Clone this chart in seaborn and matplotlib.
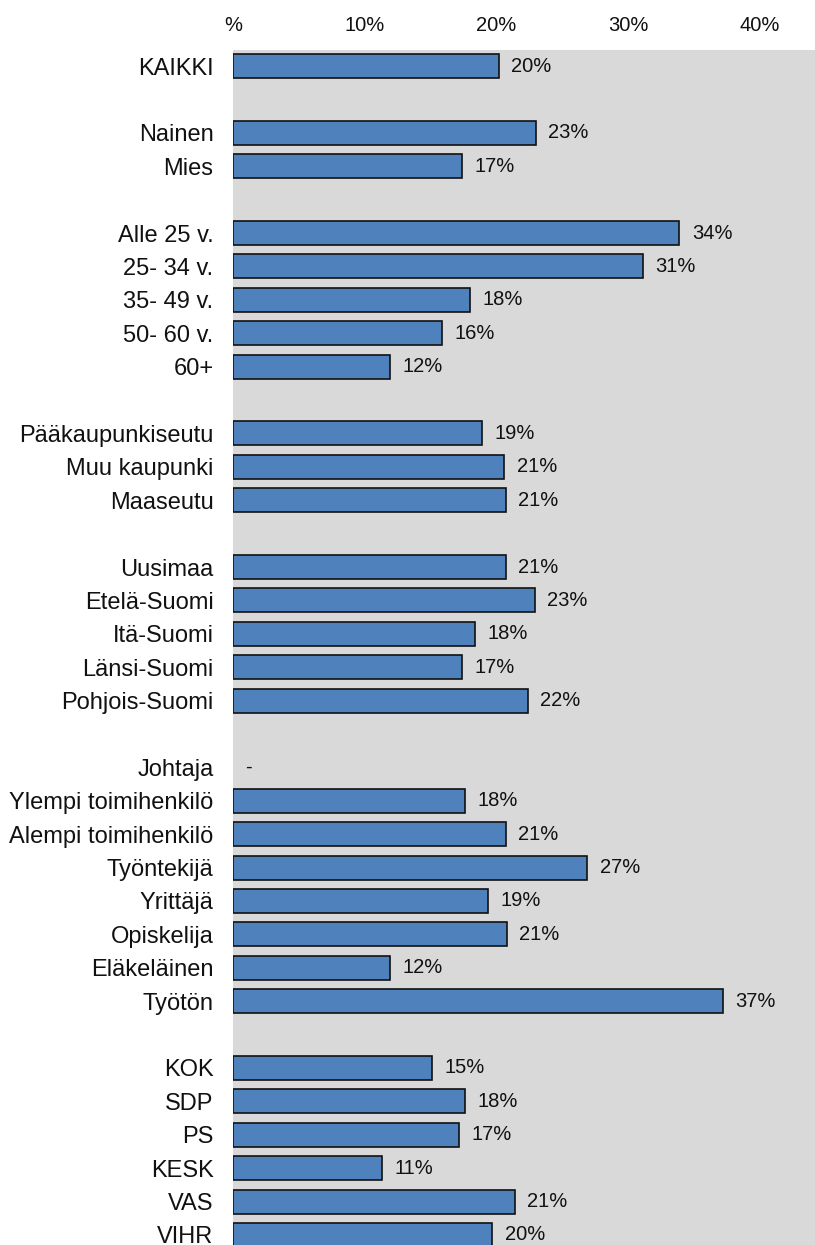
import numpy as np
import pandas as pd
import matplotlib
matplotlib.use("Agg")
import matplotlib.pyplot as plt
import seaborn as sns

# Row layout: blank strings are spacer rows between groups
categories = [
    "KAIKKI", " ",
    "Nainen", "Mies", "  ",
    "Alle 25 v.", "25- 34 v.", "35- 49 v.", "50- 60 v.", "60+", "   ",
    "Pääkaupunkiseutu", "Muu kaupunki", "Maaseutu", "    ",
    "Uusimaa", "Etelä-Suomi", "Itä-Suomi", "Länsi-Suomi", "Pohjois-Suomi", "     ",
    "Johtaja", "Ylempi toimihenkilö", "Alempi toimihenkilö", "Työntekijä",
    "Yrittäjä", "Opiskelija", "Eläkeläinen", "Työtön", "      ",
    "KOK", "SDP", "PS", "KESK", "VAS", "VIHR",
]

# Share (%) per group; None = no data shown ("-")
values = [
    20.2, None,
    23.0, 17.4, None,
    33.9, 31.1, 18.0, 15.9, 11.9, None,
    18.9, 20.6, 20.7, None,
    20.7, 22.9, 18.4, 17.4, 22.4, None,
    None, 17.6, 20.7, 26.9, 19.4, 20.8, 11.9, 37.2, None,
    15.1, 17.6, 17.2, 11.3, 21.4, 19.7,
]
missing_rows = ["Johtaja"]

tick_values = [0, 10, 20, 30, 40]
tick_labels = ["%", "10%", "20%", "30%", "40%"]

df = pd.DataFrame({"ryhma": categories, "osuus": values}).dropna()

sns.set_style("white")
plt.rcParams["font.family"] = ["Liberation Sans", "DejaVu Sans"]

fig = plt.figure(figsize=(8.15, 12.45), dpi=100)
ax = fig.add_axes([233 / 815, 0.0, 1 - 233 / 815, 1 - 50 / 1245])
ax.set_facecolor("#D9D9D9")

sns.barplot(
    data=df, x="osuus", y="ryhma", order=categories, orient="h",
    color="#4F81BD", saturation=1, edgecolor="#111111", linewidth=1.2,
    width=0.72, ax=ax,
)

for cont in ax.containers:
    ax.bar_label(cont, labels=[f"{v:.0f}%" for v in df["osuus"]],
                 padding=9, fontsize=14.5, color="#111111")

for name in missing_rows:
    ax.annotate("-", xy=(0, categories.index(name)), xytext=(9, 0),
                textcoords="offset points", va="center", ha="left",
                fontsize=14.5, color="#111111")

ax.set_xlim(0, 44.2)
ax.set_ylim(35.3, -0.48)
ax.set_xticks(tick_values)
ax.set_xticklabels(tick_labels, fontsize=14.5, color="#111111")
ax.xaxis.tick_top()
ax.tick_params(axis="x", length=0, pad=11)
ax.tick_params(axis="y", length=0, pad=14, labelsize=17, labelcolor="#111111")
ax.set_xlabel("")
ax.set_ylabel("")
for s in ax.spines.values():
    s.set_visible(False)

fig.savefig("out.png", dpi=100)
